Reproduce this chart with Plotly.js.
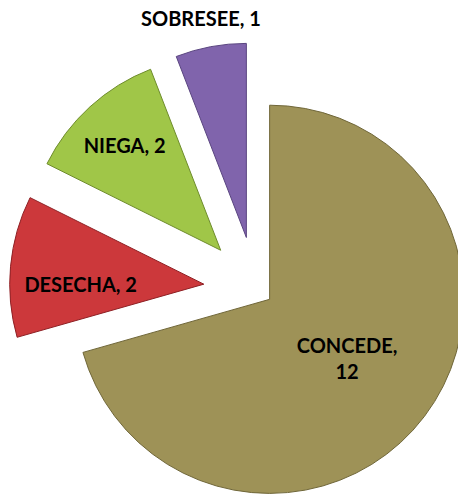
<!DOCTYPE html>
<html>
<head>
<meta charset="utf-8">
<script src="https://cdn.plot.ly/plotly-3.0.1.min.js"></script>
<style>
  html, body { margin: 0; padding: 0; overflow: hidden; background: #ffffff; width: 458px; height: 494px; }
  #chart { position: absolute; left: 0; top: 0; width: 512px; height: 540px; }
</style>
</head>
<body>
<div id="chart"></div>
<script>
const labels = ['CONCEDE', 'DESECHA', 'NIEGA', 'SOBRESEE'];
const values = [12, 2, 2, 1];
const colors = ['#9E9257', '#CC383B', '#A0C648', '#8064AC'];
const lineColors = ['#6F6638', '#8E2024', '#6E8C2C', '#5A4580'];
const pulls = [0.088, 0.27, 0.27, 0.27];
const templates = ['%{label},<br>%{value}', '%{label}, %{value}', '%{label}, %{value}', ''];
const positions = ['inside', 'inside', 'inside', 'none'];

const font = { family: 'Lato, "Open Sans", sans-serif', size: 20, color: '#000000', weight: 'bold' };

const trace = {
  type: 'pie',
  labels: labels,
  values: values,
  sort: false,
  direction: 'clockwise',
  rotation: 0,
  pull: pulls,
  marker: { colors: colors, line: { color: lineColors, width: 1 } },
  texttemplate: templates,
  textposition: positions,
  insidetextorientation: 'horizontal',
  textfont: font,
  insidetextfont: font,
  hoverinfo: 'label+value',
  domain: { x: [0, 1], y: [0.0083, 0.9213] },
  showlegend: false
};

const layout = {
  width: 512,
  height: 540,
  margin: { l: 0, r: 0, t: 0, b: 0, pad: 0 },
  paper_bgcolor: '#ffffff',
  plot_bgcolor: '#ffffff',
  showlegend: false,
  annotations: [{
    text: labels[3] + ', ' + values[3],
    xref: 'paper', yref: 'paper',
    x: 201 / 512, y: 1 - 18 / 540,
    xanchor: 'center', yanchor: 'middle',
    showarrow: false,
    font: font
  }]
};

Plotly.newPlot('chart', [trace], layout, { displayModeBar: false, staticPlot: true });
</script>
</body>
</html>
